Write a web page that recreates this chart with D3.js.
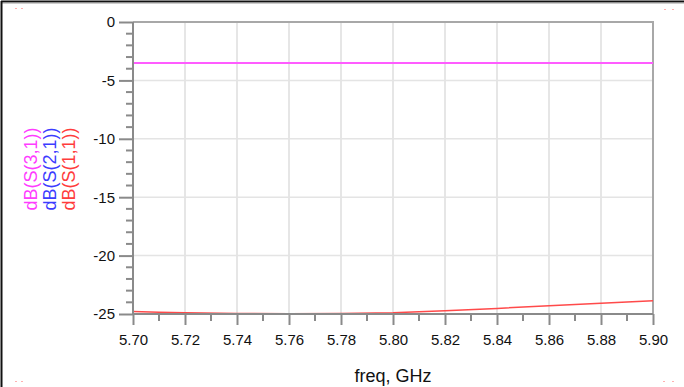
<!DOCTYPE html>
<html>
<head>
<meta charset="utf-8">
<script src="https://cdn.jsdelivr.net/npm/d3@7"></script>
<style>
  body { margin: 0; background: #fff; }
  svg { display: block; font-family: "Liberation Sans", Arial, sans-serif; }
</style>
</head>
<body>
<div id="chart"></div>
<script>
// data
const freq = [5.70, 5.71, 5.72, 5.74, 5.76, 5.78, 5.80, 5.82, 5.84, 5.86, 5.88, 5.90];
const s31 = [-3.5, -3.5, -3.5, -3.5, -3.5, -3.5, -3.5, -3.5, -3.5, -3.5, -3.5, -3.5];
const s21 = [-3.5, -3.5, -3.5, -3.5, -3.5, -3.5, -3.5, -3.5, -3.5, -3.5, -3.5, -3.5];
const s11 = [-24.78, -24.86, -24.9, -24.95, -24.97, -24.95, -24.89, -24.73, -24.52, -24.3, -24.08, -23.86];
const xTicks = [5.70, 5.72, 5.74, 5.76, 5.78, 5.80, 5.82, 5.84, 5.86, 5.88, 5.90];
const yTicks = [0, -5, -10, -15, -20, -25];

const series = [
  {name: "dB(S(2,1))", values: s21, color: "#3a3aff", width: 1.5},
  {name: "dB(S(3,1))", values: s31, color: "#ff5cff", width: 2},
  {name: "dB(S(1,1))", values: s11, color: "#ff4a4a", width: 1.5}
];
const labels = [
  {name: "dB(S(3,1))", color: "#ff3cff"},
  {name: "dB(S(2,1))", color: "#3c3cff"},
  {name: "dB(S(1,1))", color: "#ff3c3c"}
];

/* dimensions */
const W = 684, H = 387;
const margin = {top: 22, right: 31, bottom: 73, left: 133};
const width = W - margin.left - margin.right;
const height = H - margin.top - margin.bottom;
const fontFam = '"Liberation Sans", Arial, sans-serif';

const svg = d3.select("#chart").append("svg")
  .attr("width", W)
  .attr("height", H);

/* outer frame, only top and left edges show */
svg.append("line").attr("x1", 1).attr("x2", W).attr("y1", 1.5).attr("y2", 1.5)
  .attr("stroke", "#111").attr("stroke-width", 2);
svg.append("line").attr("x1", 2).attr("x2", W).attr("y1", 3).attr("y2", 3)
  .attr("stroke", "#999").attr("stroke-width", 1);
svg.append("line").attr("x1", 1.5).attr("x2", 1.5).attr("y1", 1).attr("y2", H)
  .attr("stroke", "#111").attr("stroke-width", 2);

/* tiny corner marks */
[[15, 8], [21, 8], [664, 9], [672, 9], [15, 381], [21, 381], [663, 381], [672, 381]].forEach(p => {
  svg.append("rect").attr("x", p[0]).attr("y", p[1]).attr("width", 2).attr("height", 1)
    .attr("fill", "#ffb0b0");
});

const g = svg.append("g")
  .attr("transform", `translate(${margin.left},${margin.top})`);

const xScale = d3.scaleLinear().domain([5.70, 5.90]).range([0, width]);
const yScale = d3.scaleLinear().domain([-25, 0]).range([height, 0]);

/* grid */
g.append("g")
  .selectAll("line")
  .data(xTicks.slice(1, -1))
  .join("line")
    .attr("x1", d => xScale(d)).attr("x2", d => xScale(d))
    .attr("y1", 0).attr("y2", height)
    .attr("stroke", "#dedede").attr("stroke-width", 1.5);
g.append("g")
  .selectAll("line")
  .data(yTicks.slice(1, -1))
  .join("line")
    .attr("x1", 0).attr("x2", width)
    .attr("y1", d => yScale(d)).attr("y2", d => yScale(d))
    .attr("stroke", "#e4e4e4").attr("stroke-width", 1.5);

/* top and right border */
g.append("path")
  .attr("d", `M0,0H${width}V${height}`)
  .attr("fill", "none").attr("stroke", "#a8a8a8").attr("stroke-width", 2);

/* lines */
const line = d3.line()
  .x((d, i) => xScale(freq[i]))
  .y(d => yScale(d));

g.selectAll(".trace")
  .data(series)
  .join("path")
    .attr("class", "trace")
    .attr("d", d => line(d.values))
    .attr("fill", "none")
    .attr("stroke", d => d.color)
    .attr("stroke-width", d => d.width);

/* axes */
const yMinor = d3.range(0, -26, -1).filter(d => d % 5 !== 0);
const xMinor = d3.range(5.71, 5.90, 0.02);

const yAxis = d3.axisLeft(yScale)
  .tickValues(yTicks)
  .tickSize(14)
  .tickPadding(4)
  .tickFormat(d => String(d));
const yAxisG = g.append("g").call(yAxis);
yAxisG.select(".domain").remove();
yAxisG.selectAll(".tick line").attr("stroke", "#8a8a8a").attr("stroke-width", 2);

g.append("g").selectAll("line")
  .data(yMinor)
  .join("line")
    .attr("x1", -7).attr("x2", 0)
    .attr("y1", d => yScale(d)).attr("y2", d => yScale(d))
    .attr("stroke", "#8a8a8a").attr("stroke-width", 2);

const xAxis = d3.axisBottom(xScale)
  .tickValues(xTicks)
  .tickSize(11)
  .tickPadding(9)
  .tickFormat(d => d.toFixed(2));
const xAxisG = g.append("g")
  .attr("transform", `translate(0,${height})`)
  .call(xAxis);
xAxisG.select(".domain").remove();
xAxisG.selectAll(".tick line").attr("stroke", "#8a8a8a").attr("stroke-width", 2);

g.append("g").selectAll("line")
  .data(xMinor)
  .join("line")
    .attr("x1", d => xScale(d)).attr("x2", d => xScale(d))
    .attr("y1", height).attr("y2", height + 7)
    .attr("stroke", "#8a8a8a").attr("stroke-width", 2);

/* axis lines */
g.append("line").attr("x1", 0).attr("x2", 0).attr("y1", 0).attr("y2", height)
  .attr("stroke", "#8a8a8a").attr("stroke-width", 2);
g.append("line").attr("x1", 0).attr("x2", width).attr("y1", height).attr("y2", height)
  .attr("stroke", "#8a8a8a").attr("stroke-width", 2);

g.selectAll(".tick text")
  .attr("fill", "#111")
  .style("font-family", fontFam)
  .style("font-size", "15px");

/* y labels, rotated */
svg.append("g").selectAll("text")
  .data(labels)
  .join("text")
    .attr("transform", (d, i) => `translate(${37 + i * 19},169) rotate(-90)`)
    .attr("text-anchor", "middle")
    .attr("fill", d => d.color)
    .style("font-size", "18px")
    .text(d => d.name);

/* x label */
svg.append("text")
  .attr("x", margin.left + width / 2)
  .attr("y", 382)
  .attr("text-anchor", "middle")
  .attr("fill", "#111")
  .style("font-size", "18px")
  .text("freq, GHz");
</script>
</body>
</html>
